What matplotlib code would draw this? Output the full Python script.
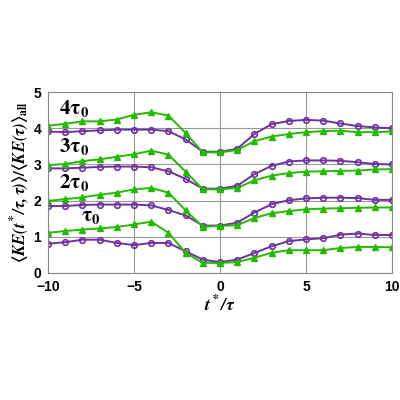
import matplotlib
matplotlib.use("Agg")
import matplotlib.pyplot as plt
import numpy as np

t = list(range(-10, 11))
p1 = [0.81,0.85,0.92,0.92,0.83,0.77,0.83,0.83,0.6,0.37,0.30,0.37,0.55,0.74,0.88,0.93,0.96,1.06,1.09,1.05,1.05]
g1 = [1.11,1.16,1.2,1.23,1.27,1.34,1.42,1.11,0.56,0.28,0.28,0.30,0.42,0.56,0.63,0.63,0.63,0.69,0.72,0.72,0.71]
p2 = [1.85,1.85,1.88,1.89,1.89,1.89,1.87,1.74,1.59,1.31,1.31,1.39,1.67,1.90,2.01,2.06,2.08,2.08,2.07,2.02,2.02]
g2 = [1.99,2.04,2.09,2.16,2.22,2.31,2.35,2.22,1.73,1.28,1.30,1.32,1.52,1.65,1.71,1.76,1.78,1.79,1.80,1.81,1.81]
p3 = [2.89,2.89,2.91,2.93,2.94,2.94,2.92,2.81,2.60,2.33,2.33,2.41,2.73,2.96,3.08,3.11,3.11,3.10,3.06,3.01,3.00]
g3 = [2.98,3.01,3.09,3.14,3.21,3.28,3.38,3.27,2.80,2.31,2.31,2.35,2.56,2.69,2.76,2.80,2.81,2.82,2.83,2.86,2.87]
p4 = [3.91,3.89,3.92,3.94,3.96,3.96,3.96,3.92,3.69,3.35,3.35,3.43,3.84,4.11,4.20,4.23,4.21,4.13,4.06,4.02,4.00]
g4 = [4.07,4.12,4.19,4.19,4.24,4.37,4.44,4.35,3.87,3.33,3.33,3.40,3.64,3.77,3.84,3.89,3.92,3.93,3.89,3.89,3.91]
labels = [r'$\mathbf{\tau_0}$', r'$\mathbf{2\tau_0}$', r'$\mathbf{3\tau_0}$', r'$\mathbf{4\tau_0}$']
label_pos = [(-7.5, 1.55), (-8.5, 2.5), (-8.5, 3.5), (-8.5, 4.55)]

plt.rcParams['mathtext.fontset'] = 'stix'
plt.rcParams['font.family'] = 'Liberation Sans'
fig = plt.figure(figsize=(4, 4), dpi=100)
ax = fig.add_axes([0.12, 0.3175, 0.86, 0.4525])
purple = '#7030A0'
green = '#22BB00'
for p, g in [(p1, g1), (p2, g2), (p3, g3), (p4, g4)]:
    ax.plot(t, p, color=purple, marker='o', ms=4, mfc='none', mew=1.2, lw=1.4)
    ax.plot(t, g, color=green, marker='^', ms=5, lw=1.4)
for lab, (x, y) in zip(labels, label_pos):
    ax.text(x, y, lab, fontsize=15, ha='center', va='center')
ax.set_xlim(-10, 10)
ax.set_ylim(0, 5)
ax.set_xticks([-10, -5, 0, 5, 10])
ax.set_yticks([0, 1, 2, 3, 4, 5])
ax.grid(True, color='#999999', lw=0.8)
for lbl in ax.get_xticklabels() + ax.get_yticklabels():
    lbl.set_fontweight('bold')
    lbl.set_fontsize(10)
ax.tick_params(length=0, pad=5)
for s in ax.spines.values():
    s.set_color('#888888')
ax.set_xlabel(r'$\mathbfit{t^*/\tau}$', fontsize=13, labelpad=0)
ax.set_ylabel(r'$\mathbf{\langle}\mathbfit{KE(t^*/\tau,\tau)}\mathbf{\rangle/\langle}\mathbfit{KE(\tau)}\mathbf{\rangle_{all}}$', fontsize=12, labelpad=2)
fig.savefig('out.png', dpi=100)
